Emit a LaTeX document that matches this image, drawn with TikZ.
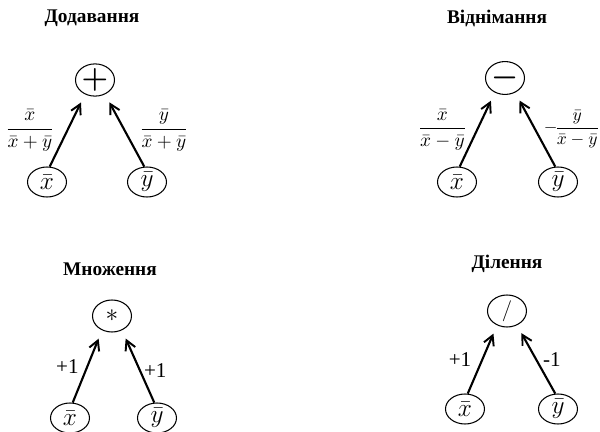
\documentclass[tikz,border=0pt]{standalone}
\usepackage{amsmath,amssymb}
\usepackage{fontspec}
\setmainfont{Liberation Serif}
\usepackage{tikz}
\usetikzlibrary{arrows.meta,positioning,shapes.geometric}

\begin{document}
\begin{tikzpicture}[x=0.02cm,y=-0.02cm,>={Straight Barb[length=5.5pt,width=6pt,line width=1.1pt]},
  var/.style={draw,ellipse,line width=0.6pt,minimum width=0.78cm,minimum height=0.6cm,inner sep=0pt,font=\Large},
  opn/.style={var,minimum height=0.64cm},
  ttl/.style={font=\bfseries\fontsize{11}{13}\selectfont},
  lab/.style={font=\fontsize{10.5}{12}\selectfont},
  one/.style={font=\large},
  arr/.style={->,line width=1.2pt,shorten >=0.18cm}]
\useasboundingbox (0,0) rectangle (600,432);
% addition
\node[ttl] (t1) at (92,18) {Додавання};
\node[opn] (o1) at (95,80) {\LARGE$\boldsymbol{+}$};
\node[var] (x1) at (47,182) {$\bar{x}$};
\node[var] (y1) at (147,182) {$\bar{y}$};
\draw[arr] (x1.80) -- node[lab,left=3.5pt]{$\dfrac{\bar{x}}{\bar{x}+\bar{y}}$} (o1.235);
\draw[arr] (y1.100) -- node[lab,right=4.5pt]{$\dfrac{\bar{y}}{\bar{x}+\bar{y}}$} (o1.305);
% subtraction
\node[ttl] (t2) at (497,18) {Віднімання};
\node[opn] (o2) at (505,78) {\LARGE$\boldsymbol{-}$};
\node[var] (x2) at (457,182) {$\bar{x}$};
\node[var] (y2) at (558,182) {$\bar{y}$};
\draw[arr] (x2.80) -- node[lab,left=2pt]{$\dfrac{\bar{x}}{\bar{x}-\bar{y}}$} (o2.235);
\draw[arr] (y2.100) -- node[lab,font=\normalsize,right=1pt]{$-\!\dfrac{\bar{y}}{\bar{x}-\bar{y}}$} (o2.305);
% multiplication
\node[ttl] (t3) at (110,269) {Множення};
\node[opn] (o3) at (112,316) {\Large$*$};
\node[var] (x3) at (70,418) {$\bar{x}$};
\node[var] (y3) at (157,418) {$\bar{y}$};
\draw[arr] (x3.80) -- node[one,left=1pt]{+1} (o3.235);
\draw[arr] (y3.100) -- node[one,right=-1.5pt,pos=0.45]{+1} (o3.305);
% division
\node[ttl] (t4) at (507,264) {Ділення};
\node[opn] (o4) at (507,311) {\large$/$};
\node[var] (x4) at (465,409) {$\bar{x}$};
\node[var] (y4) at (558,409) {$\bar{y}$};
\draw[arr] (x4.80) -- node[one,left=2.4pt]{+1} (o4.235);
\draw[arr] (y4.100) -- node[one,right=0pt]{-1} (o4.305);
\end{tikzpicture}
\end{document}
